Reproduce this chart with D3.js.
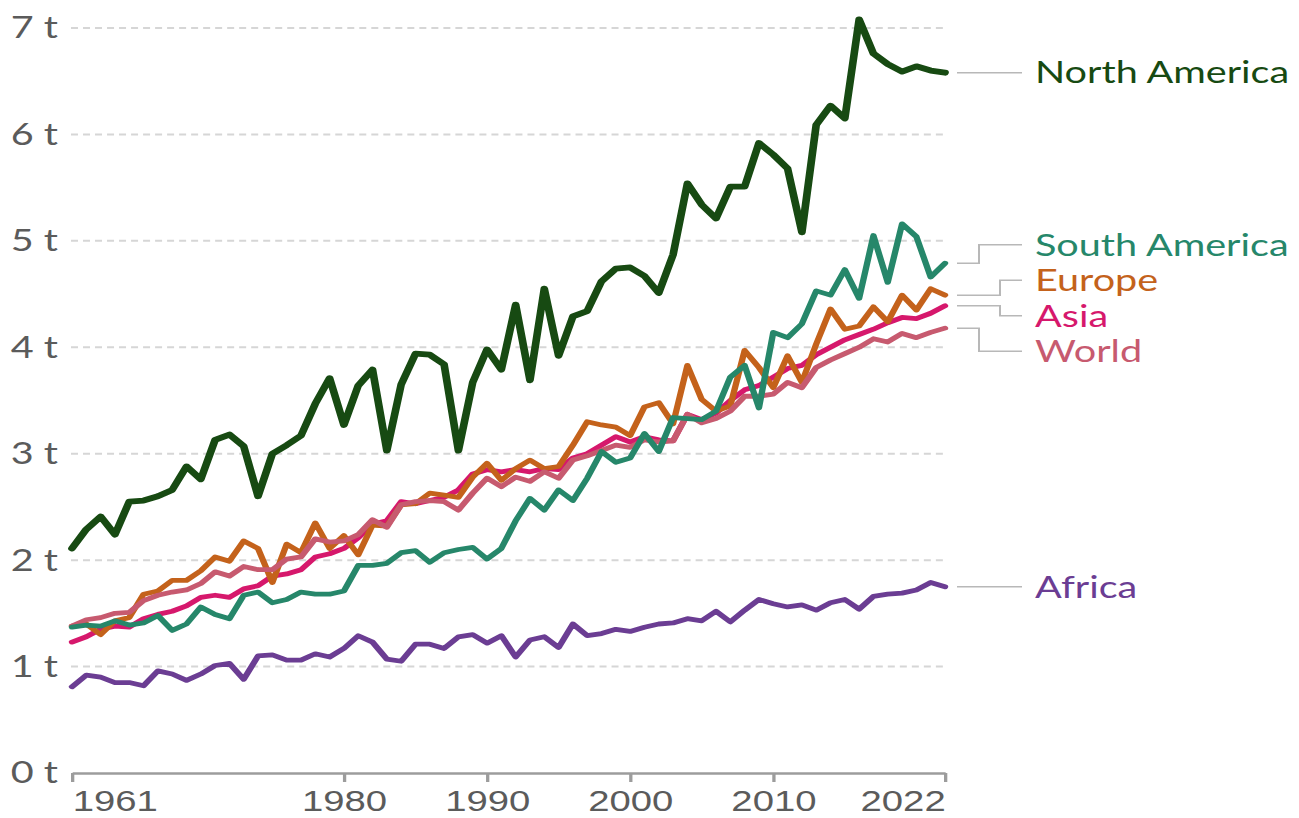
<!DOCTYPE html>
<meta charset="utf-8">
<style>
body { margin: 0; background: #fff; }
svg { display: block; font-family: Lato, "Noto Sans", sans-serif; }
.grid line { stroke: #d6d6d6; stroke-width: 2px; stroke-dasharray: 5.3,3.8; }
.axis--x path, .axis--x line { stroke: #9c9c9c; stroke-width: 2.5px; }
.tick-label { fill: #5b5b5b; font-size: 30px; }
.series { fill: none; stroke-linejoin: round; stroke-linecap: round; }
.connector { fill: none; stroke: #b8b8b8; stroke-width: 1.5px; }
.label { font-size: 30px; }
</style>
<svg width="1299" height="818"></svg>
<script src="https://d3js.org/d3.v7.min.js"></script>
<script>

const years = d3.range(1961, 2023);
const yTicks = [0, 1, 2, 3, 4, 5, 6, 7];
const xTicks = [1961, 1980, 1990, 2000, 2010, 2022];

const northAmerica = [2.11, 2.29, 2.41, 2.24, 2.55, 2.56, 2.60, 2.66, 2.88, 2.76,
  3.13, 3.18, 3.07, 2.60, 3.00, 3.08, 3.17, 3.47, 3.71, 3.27,
  3.64, 3.79, 3.03, 3.65, 3.94, 3.93, 3.84, 3.03, 3.67, 3.98,
  3.79, 4.40, 3.69, 4.55, 3.92, 4.29, 4.34, 4.62, 4.74, 4.75,
  4.67, 4.51, 4.87, 5.54, 5.34, 5.21, 5.51, 5.51, 5.92, 5.81,
  5.68, 5.08, 6.09, 6.27, 6.15, 7.08, 6.76, 6.66, 6.59, 6.64,
  6.60, 6.58];

const southAmerica = [1.37, 1.39, 1.38, 1.43, 1.39, 1.41, 1.48, 1.34, 1.40, 1.56,
  1.49, 1.45, 1.67, 1.70, 1.60, 1.63, 1.70, 1.68, 1.68, 1.71,
  1.95, 1.95, 1.97, 2.07, 2.09, 1.98, 2.07, 2.10, 2.12, 2.01,
  2.11, 2.37, 2.58, 2.47, 2.66, 2.56, 2.77, 3.02, 2.92, 2.96,
  3.19, 3.02, 3.34, 3.33, 3.32, 3.40, 3.72, 3.83, 3.43, 4.14,
  4.09, 4.22, 4.53, 4.49, 4.73, 4.46, 5.05, 4.61, 5.16, 5.04,
  4.66, 4.79];

const europe = [1.38, 1.40, 1.30, 1.43, 1.46, 1.68, 1.71, 1.81, 1.81, 1.90,
  2.03, 1.99, 2.18, 2.11, 1.79, 2.15, 2.07, 2.35, 2.11, 2.23,
  2.05, 2.33, 2.32, 2.52, 2.53, 2.63, 2.61, 2.59, 2.78, 2.91,
  2.75, 2.86, 2.94, 2.86, 2.88, 3.08, 3.30, 3.27, 3.25, 3.17,
  3.44, 3.48, 3.28, 3.83, 3.51, 3.40, 3.45, 3.97, 3.81, 3.62,
  3.92, 3.67, 4.03, 4.36, 4.17, 4.20, 4.38, 4.24, 4.49, 4.35,
  4.55, 4.49];

const asia = [1.23, 1.28, 1.35, 1.38, 1.37, 1.45, 1.49, 1.52, 1.57, 1.65,
  1.67, 1.65, 1.73, 1.76, 1.85, 1.87, 1.91, 2.03, 2.06, 2.11,
  2.21, 2.34, 2.37, 2.55, 2.53, 2.56, 2.59, 2.66, 2.81, 2.85,
  2.83, 2.85, 2.83, 2.86, 2.85, 2.96, 3.00, 3.08, 3.16, 3.11,
  3.16, 3.13, 3.12, 3.37, 3.32, 3.38, 3.50, 3.60, 3.64, 3.72,
  3.80, 3.83, 3.93, 4.00, 4.07, 4.12, 4.17, 4.23, 4.28, 4.27,
  4.32, 4.39];

const world = [1.38, 1.44, 1.46, 1.50, 1.51, 1.62, 1.67, 1.70, 1.72, 1.78,
  1.89, 1.85, 1.94, 1.91, 1.91, 2.01, 2.03, 2.20, 2.17, 2.18,
  2.24, 2.38, 2.31, 2.52, 2.55, 2.56, 2.55, 2.47, 2.63, 2.77,
  2.69, 2.78, 2.74, 2.83, 2.77, 2.94, 2.98, 3.03, 3.08, 3.06,
  3.13, 3.11, 3.12, 3.37, 3.29, 3.33, 3.40, 3.54, 3.54, 3.56,
  3.67, 3.62, 3.81, 3.88, 3.94, 4.00, 4.08, 4.05, 4.13, 4.09,
  4.14, 4.18];

const africa = [0.81, 0.92, 0.90, 0.85, 0.85, 0.82, 0.96, 0.93, 0.87, 0.93,
  1.01, 1.03, 0.88, 1.10, 1.11, 1.06, 1.06, 1.12, 1.09, 1.17,
  1.29, 1.23, 1.07, 1.05, 1.21, 1.21, 1.17, 1.28, 1.30, 1.22,
  1.29, 1.09, 1.25, 1.28, 1.18, 1.40, 1.29, 1.31, 1.35, 1.33,
  1.37, 1.40, 1.41, 1.45, 1.43, 1.52, 1.42, 1.53, 1.63, 1.59,
  1.56, 1.58, 1.53, 1.60, 1.63, 1.54, 1.66, 1.68, 1.69, 1.72,
  1.79, 1.75];

// drawing order: first drawn ends up underneath
const series = [
  {name: "Africa", values: africa, color: "#6b3d93", width: 4.8},
  {name: "Asia", values: asia, color: "#d6186c", width: 4.8},
  {name: "Europe", values: europe, color: "#c4621b", width: 4.8},
  {name: "World", values: world, color: "#c75a6f", width: 4.8},
  {name: "South America", values: southAmerica, color: "#26876a", width: 4.8},
  {name: "North America", values: northAmerica, color: "#174a12", width: 5.8}
];

// the whole picture is drawn a bit wider than tall, so everything lives in a stretched group
const sx = 1.32;
const svg = d3.select("svg");
const g = svg.append("g").attr("transform", "scale(" + sx + ",1)");

const x = d3.scaleLinear().domain([1961, 2022]).range([72 / sx, 945 / sx]);
const y = d3.scaleLinear().domain([0, 7]).range([773, 28]);

// dashed gridlines + y labels
g.append("g").attr("class", "grid").selectAll("line")
  .data(yTicks.filter(d => d > 0))
  .join("line")
    .attr("x1", 71 / sx)
    .attr("x2", x.range()[1])
    .attr("y1", d => y(d))
    .attr("y2", d => y(d));

g.append("g").selectAll("text")
  .data(yTicks)
  .join("text")
    .attr("class", "tick-label")
    .attr("x", 58 / sx)
    .attr("y", d => y(d))
    .attr("dy", "0.35em")
    .attr("text-anchor", "end")
    .text(d => d + " t");

// x axis
const xAxis = g.append("g")
    .attr("class", "axis axis--x")
    .attr("transform", "translate(0," + y(0) + ")")
    .call(d3.axisBottom(x).tickValues(xTicks).tickFormat(d3.format("d")).tickSize(9).tickSizeOuter(0));
xAxis.selectAll("text")
    .attr("class", "tick-label")
    .attr("fill", null)
    .style("font-size", "29px")
    .attr("y", 38)
    .attr("dy", null)
    .attr("text-anchor", (d, i) => i === 0 ? "start" : (i === xTicks.length - 1 ? "end" : "middle"));
xAxis.select(".domain").attr("stroke", null);
xAxis.selectAll(".tick line").attr("stroke", null);

// lines
const line = d3.line()
    .x((d, i) => x(years[i]))
    .y(d => y(d));

g.append("g").selectAll("path")
  .data(series)
  .join("path")
    .attr("class", "series")
    .attr("stroke", d => d.color)
    .attr("stroke-width", d => d.width)
    .attr("d", d => line(d.values));

// end labels with a simple stacking for the crowded middle group
const labelGap = 35.5;
const ends = series.map(s => ({...s, endY: y(s.values[s.values.length - 1])}))
  .sort((a, b) => a.endY - b.endY);

const groups = [];
ends.forEach(e => {
  const last = groups[groups.length - 1];
  if (last && e.endY - last[last.length - 1].endY < labelGap) last.push(e);
  else groups.push([e]);
});
groups.forEach(grp => {
  const mean = d3.mean(grp, e => e.endY);
  grp.forEach((e, i) => {
    e.labelY = grp.length > 1 ? mean + (i - (grp.length - 1) / 2) * labelGap : e.endY;
    const outer = i === 0 || i === grp.length - 1;
    e.bendX = grp.length > 1 ? (outer ? 979 : 1000) / sx : null;
  });
});

const lineEnd = 957 / sx;
const labelX = 1035 / sx;

g.append("g").selectAll("path")
  .data(ends)
  .join("path")
    .attr("class", "connector")
    .attr("d", d => d.bendX === null
      ? `M${lineEnd},${d.endY}H${1022 / sx}`
      : `M${lineEnd},${d.endY}H${d.bendX}V${d.labelY}H${1022 / sx}`);

g.append("g").selectAll("text")
  .data(ends)
  .join("text")
    .attr("class", "label")
    .attr("x", labelX)
    .attr("y", d => d.labelY)
    .attr("dy", "0.36em")
    .attr("fill", d => d.color)
    .text(d => d.name);

</script>
